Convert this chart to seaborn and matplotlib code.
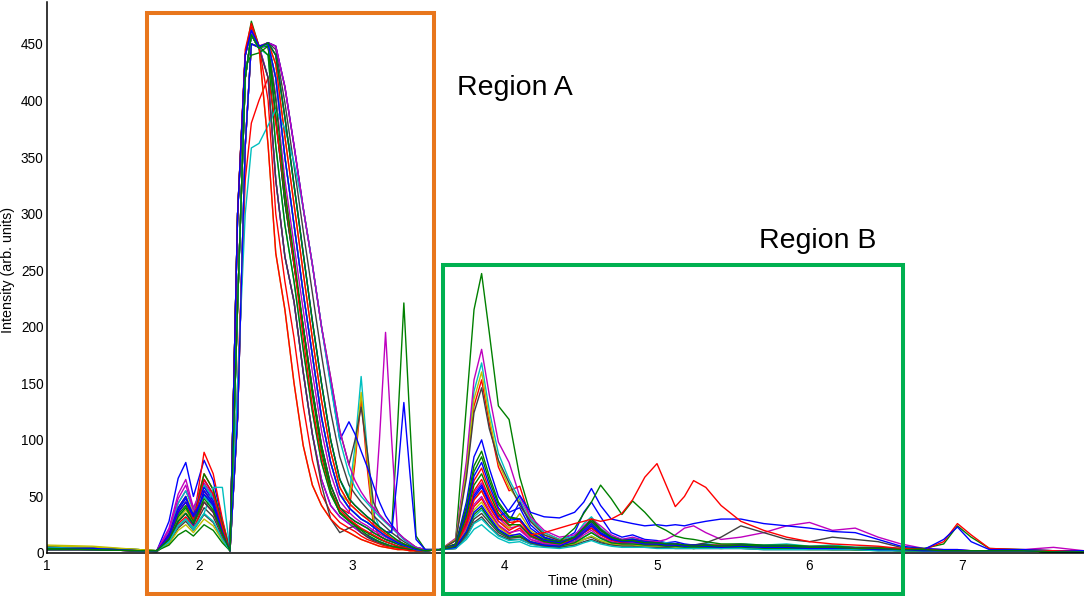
import matplotlib
matplotlib.use("Agg")
import matplotlib.pyplot as plt
import seaborn as sns
import pandas as pd
from matplotlib.patches import Rectangle

# ---------------- data ----------------
time_min = [1.00, 1.30, 1.60, 1.72, 1.80, 1.86, 1.91, 1.96, 2.03, 2.09, 2.15, 2.20,
            2.25, 2.30, 2.34, 2.39, 2.45, 2.50, 2.56, 2.62, 2.68, 2.74, 2.80, 2.86, 2.92,
            2.98, 3.02, 3.06, 3.10, 3.14, 3.18, 3.22, 3.26, 3.30, 3.34, 3.38, 3.42, 3.48,
            3.58, 3.68, 3.75, 3.80, 3.85, 3.90, 3.96, 4.03, 4.10, 4.17, 4.26, 4.36,
            4.46, 4.52, 4.57, 4.63, 4.70, 4.77, 4.84, 4.92, 5.00, 5.06, 5.12, 5.18, 5.24,
            5.32, 5.42, 5.55, 5.70, 5.85, 6.00, 6.15, 6.30, 6.45, 6.60, 6.75, 6.88, 6.97,
            7.06, 7.18, 7.40, 7.60, 7.80]

trace_01 = [5, 4, 3, 2, 28, 66, 80, 50, 82, 64, 28, 3,
            300, 440, 462, 448, 420, 330, 262, 222, 160, 105, 65, 42, 32,
            26, 22, 18, 15, 12, 10, 8, 6, 5, 4, 3, 2, 2,
            3, 8, 45, 85, 100, 75, 50, 36, 40, 22, 13, 10,
            18, 36, 45, 32, 18, 14, 16, 12, 11, 9, 10, 8, 7,
            8, 6, 7, 5, 6, 5, 4, 4, 3, 3, 2, 2, 2, 2, 2, 2, 2, 1]
trace_02 = [4, 4, 2, 2, 15, 36, 45, 30, 60, 48, 21, 2,
            220, 420, 458, 446, 450, 420, 350, 290, 230, 175, 120, 80, 52,
            40, 35, 30, 27, 23, 19, 15, 20, 115, 221, 115, 15, 3,
            3, 12, 130, 215, 247, 195, 130, 118, 67, 35, 14, 9,
            10, 18, 25, 18, 12, 9, 10, 8, 7, 6, 6, 5, 5,
            6, 5, 6, 5, 5, 4, 4, 3, 3, 2, 2, 2, 2, 2, 2, 2, 1, 1]
trace_03 = [3, 3, 2, 2, 12, 28, 35, 28, 89, 70, 30, 2,
            120, 360, 450, 447, 448, 385, 310, 255, 200, 145, 95, 60, 40,
            35, 80, 137, 75, 25, 15, 12, 10, 8, 6, 4, 3, 2,
            3, 11, 70, 130, 153, 115, 76, 55, 59, 30, 18, 12,
            14, 22, 28, 20, 14, 11, 12, 10, 9, 8, 8, 7, 6,
            7, 6, 8, 6, 7, 5, 6, 4, 4, 3, 2, 2, 2, 2, 2, 2, 1, 1]
trace_04 = [4, 3, 2, 2, 19, 44, 55, 38, 60, 48, 21, 2,
            220, 420, 458, 446, 451, 440, 385, 325, 265, 205, 150, 100, 65,
            50, 95, 156, 90, 35, 23, 19, 15, 11, 8, 6, 4, 2,
            3, 12, 76, 143, 168, 126, 88, 65, 47, 30, 18, 12,
            15, 26, 32, 22, 15, 12, 13, 10, 10, 9, 8, 7, 7,
            8, 7, 8, 7, 8, 6, 7, 5, 5, 3, 3, 2, 2, 2, 2, 2, 2, 1]
trace_05 = [5, 4, 2, 2, 22, 52, 65, 40, 55, 44, 19, 2,
            300, 440, 462, 448, 420, 330, 262, 222, 160, 105, 65, 42, 32,
            26, 22, 18, 15, 20, 100, 195, 100, 15, 4, 3, 2, 2,
            3, 13, 81, 153, 180, 140, 98, 80, 50, 32, 20, 14,
            16, 24, 30, 24, 16, 12, 14, 11, 10, 12, 16, 22, 24,
            18, 12, 14, 18, 24, 27, 20, 22, 14, 8, 4, 3, 3, 2, 2, 3, 5, 2]
trace_06 = [6, 5, 3, 2, 17, 40, 50, 35, 55, 44, 19, 2,
            220, 420, 458, 446, 450, 420, 350, 290, 230, 175, 120, 80, 52,
            45, 85, 142, 82, 30, 19, 15, 12, 9, 7, 5, 3, 2,
            3, 12, 72, 136, 160, 120, 80, 58, 45, 28, 16, 11,
            13, 20, 26, 18, 13, 10, 11, 9, 9, 8, 7, 7, 6,
            7, 6, 7, 6, 6, 5, 5, 4, 4, 3, 3, 2, 2, 2, 2, 2, 2, 1]
trace_07 = [3, 3, 2, 1, 10, 24, 30, 22, 40, 32, 14, 2,
            120, 360, 450, 447, 451, 448, 412, 360, 305, 255, 200, 155, 108,
            78, 100, 129, 90, 45, 34, 28, 23, 18, 13, 9, 5, 3,
            3, 11, 66, 124, 146, 110, 82, 62, 42, 28, 16, 11,
            12, 18, 22, 16, 12, 10, 11, 9, 9, 8, 8, 7, 7,
            9, 14, 24, 18, 12, 10, 14, 12, 10, 5, 3, 2, 2, 2, 2, 2, 2, 1]
trace_08 = [4, 4, 2, 2, 17, 40, 50, 30, 65, 52, 23, 2,
            220, 420, 458, 446, 451, 448, 412, 360, 305, 255, 200, 150, 100,
            116, 105, 90, 76, 60, 45, 33, 25, 18, 12, 8, 5, 3,
            3, 6, 27, 51, 60, 45, 32, 38, 51, 36, 32, 31,
            36, 45, 57, 42, 30, 28, 26, 24, 25, 24, 25, 24, 26,
            28, 30, 30, 26, 24, 22, 19, 18, 12, 6, 4, 3, 3, 2, 2, 2, 2, 1]
trace_09 = [5, 4, 3, 2, 14, 32, 40, 28, 70, 56, 25, 3,
            300, 440, 462, 448, 448, 385, 310, 255, 200, 145, 95, 60, 40,
            32, 28, 25, 22, 18, 15, 12, 10, 8, 6, 4, 3, 2,
            3, 8, 41, 77, 90, 68, 45, 32, 30, 18, 12, 10,
            22, 35, 45, 60, 48, 34, 46, 36, 24, 20, 15, 13, 12,
            10, 8, 8, 7, 7, 6, 6, 5, 5, 4, 4, 8, 24, 14, 4, 3, 2, 2]
trace_10 = [3, 3, 2, 2, 10, 24, 30, 20, 45, 36, 16, 2,
            150, 330, 380, 400, 420, 380, 320, 255, 190, 130, 85, 55, 38,
            30, 26, 22, 19, 16, 13, 10, 8, 6, 5, 4, 3, 2,
            3, 6, 29, 55, 65, 49, 33, 24, 30, 16, 10, 8,
            12, 18, 22, 16, 11, 9, 10, 8, 8, 7, 7, 6, 6,
            6, 6, 7, 5, 6, 5, 5, 4, 4, 3, 3, 10, 26, 16, 4, 3, 2, 2]
trace_11 = [3, 3, 2, 2, 10, 24, 30, 22, 35, 58, 58, 2,
            150, 300, 358, 362, 378, 392, 375, 345, 305, 255, 200, 148, 100,
            70, 58, 50, 44, 38, 32, 27, 22, 17, 12, 8, 5, 3,
            3, 5, 14, 26, 30, 23, 15, 11, 12, 8, 6, 5,
            8, 12, 15, 11, 8, 7, 8, 6, 6, 5, 5, 5, 4,
            5, 4, 5, 4, 4, 4, 3, 3, 3, 2, 2, 2, 2, 2, 2, 2, 1, 1]
trace_12 = [4, 3, 2, 2, 20, 48, 60, 38, 45, 36, 16, 2,
            300, 440, 462, 448, 451, 448, 412, 360, 305, 255, 200, 155, 108,
            78, 64, 54, 46, 40, 34, 28, 23, 18, 13, 9, 5, 3,
            3, 5, 23, 43, 50, 38, 25, 18, 20, 12, 8, 7,
            10, 16, 20, 14, 10, 8, 9, 7, 7, 6, 6, 6, 5,
            6, 5, 6, 5, 5, 4, 4, 4, 3, 3, 2, 2, 2, 2, 2, 2, 1, 1]
trace_13 = [7, 6, 3, 2, 8, 20, 25, 18, 30, 24, 11, 2,
            120, 360, 450, 447, 360, 265, 215, 150, 95, 60, 42, 30, 22,
            18, 15, 12, 10, 8, 6, 5, 4, 3, 3, 2, 2, 2,
            3, 5, 20, 38, 45, 34, 23, 16, 16, 10, 7, 6,
            8, 12, 15, 11, 8, 7, 7, 6, 6, 5, 5, 5, 4,
            5, 4, 5, 4, 4, 3, 3, 3, 3, 2, 2, 2, 2, 2, 2, 2, 1, 1]
trace_14 = [4, 3, 2, 2, 12, 28, 35, 25, 45, 36, 16, 2,
            220, 420, 458, 446, 420, 330, 262, 222, 160, 105, 60, 30, 18,
            22, 24, 18, 14, 11, 9, 7, 6, 5, 4, 3, 2, 2,
            3, 4, 16, 30, 35, 27, 18, 13, 14, 9, 6, 5,
            7, 10, 12, 9, 7, 6, 6, 5, 5, 5, 4, 4, 4,
            4, 4, 4, 3, 3, 3, 3, 3, 2, 2, 2, 2, 2, 2, 2, 2, 1, 1]
trace_15 = [3, 3, 2, 2, 12, 28, 35, 25, 55, 44, 19, 2,
            120, 360, 450, 447, 451, 440, 385, 325, 265, 205, 150, 100, 65,
            48, 42, 37, 32, 28, 23, 19, 18, 70, 133, 70, 12, 3,
            3, 7, 36, 68, 80, 60, 40, 29, 30, 18, 11, 9,
            14, 22, 28, 20, 14, 11, 12, 10, 9, 8, 8, 7, 7,
            7, 6, 7, 6, 6, 5, 5, 4, 4, 3, 3, 12, 23, 10, 3, 3, 2, 2]
trace_16 = [3, 3, 2, 2, 7, 16, 20, 15, 25, 20, 9, 2,
            300, 430, 440, 442, 448, 400, 320, 262, 200, 140, 90, 55, 35,
            28, 24, 20, 16, 13, 10, 8, 6, 5, 4, 3, 2, 2,
            3, 5, 18, 34, 40, 30, 20, 14, 15, 10, 7, 6,
            9, 14, 18, 13, 9, 8, 8, 7, 7, 6, 6, 5, 5,
            5, 5, 5, 4, 4, 4, 4, 3, 3, 2, 2, 2, 2, 2, 2, 2, 1, 1]
trace_17 = [5, 4, 2, 2, 15, 36, 45, 30, 65, 52, 23, 2,
            300, 445, 468, 448, 360, 265, 215, 150, 95, 60, 42, 30, 22,
            18, 15, 12, 10, 8, 6, 5, 4, 3, 3, 2, 2, 2,
            3, 6, 25, 47, 55, 41, 28, 20, 25, 16, 18, 22,
            26, 28, 30, 28, 30, 35, 47, 67, 79, 60, 41, 50, 64,
            58, 42, 28, 20, 14, 10, 8, 7, 6, 4, 3, 2, 2, 2, 2, 2, 2, 1]
trace_18 = [5, 4, 2, 2, 10, 24, 30, 20, 35, 28, 12, 2,
            220, 420, 458, 446, 450, 420, 350, 290, 230, 175, 120, 80, 52,
            40, 35, 30, 27, 23, 19, 15, 12, 9, 7, 5, 3, 2,
            3, 4, 12, 21, 25, 19, 13, 9, 10, 6, 5, 4,
            6, 9, 11, 8, 6, 5, 5, 5, 4, 4, 4, 4, 4,
            4, 4, 4, 3, 3, 3, 3, 3, 2, 2, 2, 2, 2, 2, 2, 2, 1, 1]
trace_19 = [4, 4, 2, 2, 15, 36, 45, 32, 52, 42, 18, 2,
            300, 440, 462, 448, 450, 420, 350, 290, 230, 175, 120, 80, 52,
            40, 35, 30, 27, 23, 19, 15, 12, 9, 7, 5, 3, 2,
            3, 5, 19, 36, 42, 32, 21, 15, 17, 10, 7, 6,
            12, 18, 24, 17, 12, 10, 10, 8, 8, 7, 7, 6, 6,
            6, 5, 6, 5, 5, 4, 4, 4, 3, 3, 2, 2, 2, 2, 2, 2, 1, 1]
trace_20 = [4, 3, 2, 2, 12, 28, 35, 26, 48, 38, 17, 2,
            220, 420, 458, 446, 451, 440, 385, 325, 265, 205, 150, 100, 65,
            48, 42, 37, 32, 28, 23, 19, 15, 11, 8, 6, 4, 2,
            3, 6, 32, 60, 70, 53, 35, 25, 25, 15, 10, 8,
            14, 22, 28, 20, 14, 11, 11, 9, 9, 8, 8, 7, 6,
            7, 6, 7, 6, 6, 5, 5, 4, 4, 3, 3, 2, 2, 2, 2, 2, 1, 1]
trace_21 = [4, 4, 2, 2, 17, 40, 50, 35, 70, 56, 25, 2,
            300, 440, 465, 448, 400, 300, 240, 190, 130, 82, 52, 36, 27,
            22, 19, 15, 12, 10, 8, 6, 5, 4, 3, 2, 2, 2,
            3, 5, 22, 41, 48, 36, 24, 17, 22, 12, 8, 7,
            14, 22, 28, 20, 13, 10, 11, 9, 9, 8, 7, 7, 6,
            7, 6, 7, 6, 6, 5, 5, 4, 4, 3, 3, 2, 2, 2, 2, 2, 1, 1]
trace_22 = [5, 4, 3, 2, 14, 32, 40, 28, 50, 40, 18, 2,
            220, 420, 458, 446, 440, 360, 290, 240, 180, 125, 80, 52, 36,
            29, 25, 21, 18, 15, 12, 10, 8, 6, 5, 4, 3, 2,
            3, 5, 17, 32, 38, 29, 19, 14, 15, 9, 6, 5,
            9, 14, 18, 13, 9, 8, 8, 7, 7, 6, 6, 5, 5,
            6, 5, 6, 5, 5, 4, 4, 3, 3, 2, 2, 2, 2, 2, 2, 2, 1, 1]
trace_23 = [4, 3, 2, 2, 19, 44, 55, 40, 62, 50, 22, 2,
            120, 360, 450, 447, 450, 405, 330, 272, 215, 160, 108, 70, 46,
            36, 31, 27, 24, 20, 17, 14, 11, 8, 6, 4, 3, 2,
            3, 6, 28, 53, 62, 47, 31, 22, 24, 14, 9, 8,
            12, 19, 24, 17, 12, 10, 10, 9, 8, 8, 7, 6, 6,
            7, 6, 7, 6, 6, 5, 5, 4, 4, 3, 3, 2, 2, 2, 2, 2, 1, 1]
trace_24 = [6, 5, 3, 2, 13, 30, 38, 28, 45, 36, 16, 2,
            300, 440, 462, 448, 451, 432, 368, 308, 248, 190, 135, 90, 58,
            44, 39, 34, 30, 25, 21, 17, 13, 10, 8, 5, 3, 2,
            3, 6, 25, 47, 55, 41, 28, 22, 35, 20, 12, 9,
            12, 18, 22, 16, 12, 10, 10, 9, 8, 8, 7, 6, 6,
            6, 6, 6, 5, 5, 5, 4, 4, 3, 3, 2, 2, 2, 2, 2, 2, 1, 1]
trace_25 = [4, 3, 2, 2, 9, 22, 28, 20, 34, 27, 12, 2,
            220, 420, 458, 446, 451, 445, 398, 342, 285, 230, 175, 125, 85,
            60, 52, 45, 39, 33, 28, 23, 18, 14, 10, 7, 4, 2,
            3, 4, 14, 27, 32, 24, 16, 12, 12, 8, 6, 5,
            8, 12, 14, 10, 8, 7, 7, 6, 6, 5, 5, 5, 4,
            5, 5, 5, 4, 4, 4, 3, 3, 3, 2, 2, 2, 2, 2, 2, 2, 1, 1]
trace_26 = [4, 3, 2, 2, 16, 38, 48, 34, 58, 46, 20, 2,
            120, 360, 450, 447, 448, 385, 310, 255, 200, 145, 95, 60, 40,
            32, 28, 25, 22, 18, 15, 12, 10, 8, 6, 4, 3, 2,
            3, 6, 26, 49, 58, 44, 30, 28, 45, 25, 14, 10,
            13, 20, 26, 18, 13, 10, 11, 9, 9, 8, 7, 7, 6,
            7, 6, 7, 6, 6, 5, 5, 4, 4, 3, 3, 2, 2, 2, 2, 2, 1, 1]
trace_27 = [3, 3, 2, 2, 11, 26, 32, 24, 55, 44, 19, 2,
            220, 420, 458, 446, 451, 432, 368, 308, 248, 190, 135, 90, 58,
            44, 39, 34, 30, 25, 21, 17, 13, 10, 8, 5, 3, 2,
            3, 7, 34, 64, 75, 56, 38, 27, 28, 17, 11, 9,
            14, 22, 30, 21, 14, 11, 12, 10, 9, 8, 8, 7, 7,
            7, 7, 7, 6, 6, 5, 5, 4, 4, 3, 3, 2, 2, 2, 2, 2, 1, 1]
trace_28 = [5, 4, 2, 2, 14, 34, 42, 30, 52, 42, 18, 2,
            300, 440, 470, 448, 440, 360, 290, 240, 180, 125, 80, 52, 36,
            29, 25, 21, 18, 15, 12, 10, 8, 6, 5, 4, 3, 2,
            3, 8, 38, 72, 85, 64, 43, 31, 30, 18, 11, 9,
            14, 22, 30, 21, 14, 11, 12, 10, 9, 8, 8, 7, 7,
            7, 6, 7, 6, 6, 5, 5, 4, 4, 3, 3, 2, 2, 2, 2, 2, 1, 1]

trace_colors = ["#0000FF", "#008000", "#FF0000", "#00BFBF", "#BF00BF", "#BFBF00", "#404040",
                "#0000FF", "#008000", "#FF0000", "#00BFBF", "#BF00BF", "#BFBF00", "#404040",
                "#0000FF", "#008000", "#FF0000", "#00BFBF", "#0000FF", "#008000",
                "#FF0000", "#00BFBF", "#BF00BF", "#BFBF00", "#404040", "#0000FF",
                "#FF0000", "#008000"]

x_ticks = [1, 2, 3, 4, 5, 6, 7]
y_ticks = [0, 50, 100, 150, 200, 250, 300, 350, 400, 450]

region_a_span = (1.656, 3.538)
region_b_span = (3.597, 6.613)
region_a_top = 477.4
region_b_top = 254.6

# ---------------- build long table ----------------
traces = [trace_01, trace_02, trace_03, trace_04, trace_05, trace_06, trace_07,
          trace_08, trace_09, trace_10, trace_11, trace_12, trace_13, trace_14,
          trace_15, trace_16, trace_17, trace_18, trace_19, trace_20, trace_21,
          trace_22, trace_23, trace_24, trace_25, trace_26, trace_27, trace_28]
# drawing order: interleave so that colours mix within the bundle
draw_order = [0, 20, 1, 21, 2, 22, 3, 23, 4, 24, 5, 25, 6, 26, 7, 27,
              8, 9, 10, 11, 12, 13, 14, 15, 16, 17, 18, 19]
rows = []
for i in draw_order:
    tr = traces[i]
    if len(tr) != len(time_min):
        raise SystemExit(f"trace {i+1} has {len(tr)} values, expected {len(time_min)}")
    for t, v in zip(time_min, tr):
        rows.append({"time": t, "intensity": v, "trace": f"s{i+1:02d}"})
df = pd.DataFrame(rows)
palette = {f"s{i+1:02d}": c for i, c in enumerate(trace_colors)}
hue_order = [f"s{i+1:02d}" for i in draw_order]

# ---------------- plot ----------------
sns.set_style("white")
plt.rcParams["font.family"] = ["Liberation Sans", "DejaVu Sans"]
plt.rcParams["text.color"] = "black"
plt.rcParams["axes.labelcolor"] = "black"

W, H = 1084, 596
fig = plt.figure(figsize=(W / 100, H / 100), dpi=100)
ax = fig.add_axes([47 / W, 43 / H, 1037 / W, 551 / H])

sns.lineplot(data=df, x="time", y="intensity", hue="trace", hue_order=hue_order,
             palette=palette, estimator=None, sort=False, legend=False,
             linewidth=1.0, ax=ax)

ax.set_xlim(1, 7.8)
ax.set_ylim(0, 487)
ax.set_xticks(x_ticks)
ax.set_yticks(y_ticks)
ax.tick_params(axis="both", direction="in", length=7, width=0.8, colors="#222222",
               labelsize=9.8, labelcolor="black")
ax.tick_params(axis="y", pad=2.5)
ax.tick_params(axis="x", pad=4.5)
for side in ("top", "right"):
    ax.spines[side].set_visible(False)
for side in ("left", "bottom"):
    ax.spines[side].set_color("black")
    ax.spines[side].set_linewidth(1.1)
ax.set_axisbelow(True)

ax.set_xlabel("Time (min)", fontsize=9.8, color="black")
ax.xaxis.set_label_coords(0.514, -0.038)
ax.set_ylabel("Intensity (arb. units)", fontsize=10.3, color="black")
ax.yaxis.set_label_coords(-0.031, 0.514)

ax.add_patch(Rectangle((region_a_span[0], -36), region_a_span[1] - region_a_span[0],
                       region_a_top + 36, fill=False, edgecolor="#E8761C",
                       linewidth=2.9, clip_on=False, zorder=5))
ax.add_patch(Rectangle((region_b_span[0], -36), region_b_span[1] - region_b_span[0],
                       region_b_top + 36, fill=False, edgecolor="#00B050",
                       linewidth=2.9, clip_on=False, zorder=5))

fig.text(457 / W, 1 - 95 / H, "Region A", fontsize=20.5, ha="left", va="baseline",
         color="black")
fig.text(759 / W, 1 - 247.7 / H, "Region B", fontsize=20.5, ha="left", va="baseline",
         color="black")

fig.savefig("out.png", dpi=100)
